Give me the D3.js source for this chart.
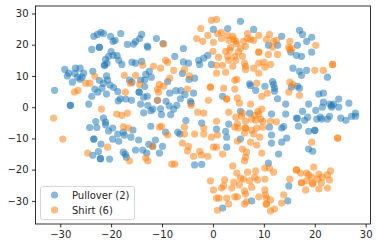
<!DOCTYPE html>
<html><head><meta charset="utf-8"><script src="https://cdn.jsdelivr.net/npm/d3@7"></script>
<style>html,body{margin:0;padding:0;background:#fff}svg{display:block}text{font-family:"DejaVu Sans",sans-serif;font-size:10px;fill:#262626}</style></head><body>
<svg id="c" width="378" height="248"></svg>
<script>
const seriesNames = ["Pullover (2)", "Shirt (6)"];
const colors = ["#1f77b4", "#ff7f0e"];
const xTicks = [-30,-20,-10,0,10,20,30];
const yTicks = [-30,-20,-10,0,10,20,30];
const pulloverX = [-31.1,-29.1,-28.6,-28.3,-27.6,-27.1,-27,-26.6,-26.1,-26.1,-25.7,-25.4,-28,-28,-24.4,-23.8,-23.6,-23.2,-22.6,-22.3,-21.8,-21.5,-20.9,-20.9,-20.7,-20.2,-19.5,-18.7,-18.6,-18.2,-17.1,-16,-14.2,-13.6,-12.9,-13.6,-12.8,-12.2,-11.8,-10.9,-10.3,-10.1,-9.2,-8.6,-8.3,-7.7,-7.1,-6.4,-8.5,-7.3,-6.3,-5.5,-5.3,-14.5,-14.5,-13.4,-13.4,-14.2,-16.4,-15.9,-13.2,-12.5,-12.1,-8.9,-6,-4.7,-4.8,-5.8,-7.5,-5.8,-11.1,-9.8,-12.9,-12.8,-14,-14.4,-15.2,-15.6,-16.8,-18.1,-19.2,-19.6,-20.1,-21.5,-22,-22.7,-23.4,-23.8,-22.3,-22.3,-20,-20.5,-19.6,-18.8,-21.1,-18.5,-17.9,-20.8,-21.3,-21.3,-15.9,-15.2,-14,-23,-21.5,-21.1,-24.2,-22.8,-21.1,-20.5,-19.7,-19.7,-18.7,-18.5,-17.6,-17.4,-16.1,-15.7,-23.4,-23.4,-22.5,-23.6,-22,-22.1,-22.1,-20.3,-17.6,-17.2,-17,-15.2,-14.6,-13.8,-13,-12.6,-11.8,-11.3,-10.5,-9.9,-12.2,-9.3,-6.9,-6.5,5.4,2.9,0.1,8,13.5,17,17.6,19.4,18.4,16.6,10.9,12.7,15.3,16.4,17.4,19.4,-1,-1.8,-2.8,-2.6,-0.3,15.7,17,18.4,17.4,22.5,-3.6,7.2,7.4,8.4,10.2,11.7,11.9,12.1,12.1,12.7,15.4,16.6,17,20.8,21.7,21.7,21.5,20.2,22.9,23.3,23.7,23.3,24.7,24.7,26.7,18.8,17.6,18.6,18,16.4,16.6,20.4,21.1,21.4,22.5,22.9,25.1,26.1,27.2,28,28,14.3,14.3,11.5,7.2,5.4,1.9,-3.8,-4.4,-4.3,-2.2,3.1,0.7,2.5,2.7,2.7,5.4,-3.6,-2.2,11.1,11.5,11.5,13.5,13.9,13.5,14.5,16.8,18.8,20,20,18.8,19.6,12.9,10.9,14.9,7.6,14.7,1.9];
const pulloverY = [5.4,12.1,10,10.9,8,10.8,12.5,9.6,12.5,8.9,9.6,10.9,0.6,0.6,1,3.5,11.5,5.8,4.8,8.6,6.1,7.7,4.2,10,8.7,7.1,6.3,5,2,2.7,2.6,2.2,1,3.2,3.5,-1.8,0.6,-1.1,-0.6,2.2,-0.5,-2.4,1.9,0.4,-2.4,-0.6,0.6,2.7,4.5,5.3,5.3,4,-4.3,4.8,4.8,6.6,8.7,8.7,8.7,8,10.5,11.5,9.6,8.2,10.8,8.9,14.1,14.5,16.3,18.8,22,20.4,19.6,19.2,23.3,22,21,20.2,20.1,23.6,21.4,21.1,22.7,23.6,24,23.3,22.7,18.5,19.2,19.2,17.8,16.3,16.6,16.5,15.3,15,13.7,14.1,13.4,13.4,14.4,14.1,14.7,-4.6,-3.5,-4.8,-6.5,-6.5,-5.6,-7.6,-6.7,-10.2,-8.6,-10.9,-8,-9,-9.6,-7.3,-10.2,-10.2,-14.2,-15.4,-11.8,-16.5,-16.5,-16.6,-14.4,-15.1,-16,-13.7,-10.5,-13.7,-14.7,-11.9,-12.5,-10.5,-14.7,-12.5,-6.1,-8,-8,-8.6,27.5,25.2,24.9,24.9,22.7,24.6,23.3,22.4,21.1,19.8,19.8,19.8,17.6,16.6,16.3,17.6,16.6,15.7,15,13.7,13.7,12.5,11.5,11.8,10.2,9.6,9.3,7.5,6.9,5.4,6.7,8.2,7.3,6.1,5.1,2.7,6.4,6.7,6.1,4.2,4.5,1.6,0,-1,1,0.6,1,0,2.6,0,1.3,1,-1.3,-3.2,-4.2,-3.5,-3.6,-3.8,-3.2,-3.8,-3.8,-2.9,-3.5,-4.2,-2.9,-1.9,-2.9,1,-2.2,-2.2,-1.9,-1.3,3.5,4.5,1.9,1.3,-5.1,-5.4,-7,-7.7,-9.6,-12.8,-10.2,-18.5,-18.3,-6.4,-8.9,-11.5,-6.7,-6.2,-11.2,-9.9,-6.1,-7.7,-7.4,-7.4,-13.4,-14.1,-15,-17.9,-25.2,-30,-30,-32.3];
const shirtX = [-31.3,-27.2,-26.5,-25,-24.2,-23.2,-21.9,-18.9,-17.9,-16.8,-17.4,-17.2,-16.2,-15.2,-14.4,-13.8,-11.7,-10.3,-9.7,-9.3,-8.9,-7.7,-5.6,-8.5,-10.5,-9.7,-10.9,-10.7,-10.9,-5,-4.6,-29.5,-24.6,-20.7,-17.6,-16.6,-16.4,-13.2,-12.8,-11.9,-10.5,-10.1,-8.9,-8.1,-7.5,-6,-5.6,-5.6,-4.8,-5,-0.3,0.7,-2.4,-3.2,-2,-1,0.1,0.9,1.7,1.7,2.9,3.1,3.9,4.1,3.5,3.3,4.5,4.6,6,6.4,5.4,6.8,6.8,7.4,8,9,10.5,11.1,11.9,12.5,11.7,15.1,14.9,15.1,15.5,20.2,9,9,10.9,12.7,0,2.5,1.1,2.9,3.1,4.3,5,4.5,5.8,6.2,6.4,6.4,3.9,1.9,0.7,0.7,2.5,8,9,10,10.2,11.3,9,23.5,23.5,20,21.7,4.3,4.7,8.6,15.1,15.7,14.9,17,10.7,9.6,-0.5,-0.5,2.1,4.3,4.8,2.7,2.7,-0.9,5.2,7.4,3.1,-3,-1.8,-4.3,9.6,8.8,9,8.2,5.8,5.6,4.5,0.7,6.4,4.8,7.6,8.4,9.4,9.8,11.3,12.5,-3.6,-1.8,-1.8,-0.3,0.9,0.1,0.7,-2.6,-2.2,-1,-3.8,1.9,4.3,5,4.8,6.4,6.4,7.6,8.6,9.8,8,6.2,7.4,8.6,9.2,5.8,6.6,6.4,6.2,9.6,19.4,24.5,24.5,3.9,4.7,6.8,8.4,10.2,11.1,11.9,5.4,6,8.2,8.8,10.2,7.2,4.1,2.3,-0.5,2.1,1.7,3.7,5.2,7.6,0.1,6.2,6.4,10.2,9,10.3,10.5,13.9,0.7,1.2,2.7,4.3,4.8,3.1,6.2,6.6,10.5,10.5,11.3,13.5,0.9,11.3,12.1,15.1,16.4,16.4,17.2,18.4,18.8,19.4,19.8,20.8,20.6,21.5,22.5,23.1,22.9,17.4,17.4,18.4,19.6,19.6,21.3,18.2,20.8,22.5];
const shirtY = [-3.5,4.8,5.4,7.7,7.7,9.9,-0.6,-2.2,-2.6,-1.9,10.2,4.8,7.7,10.2,7.3,13.4,13.1,12.5,20.2,15,14.4,11.8,12.1,9.3,7.3,6.7,5.8,4.8,2.2,5.8,10,-10.2,-14.7,-12.8,-6.2,-6.7,-17.2,-16.3,-17.2,-12.5,-6.4,-6.1,-8.9,-18.2,-18.2,-11.5,-6.4,-8.6,-12.5,-14,27.8,28.1,25.2,22,21.1,23,20.8,23.6,24,22,23,21.4,22.7,21.7,19.2,18.3,21.1,20.4,21.1,19.5,18.9,23.6,22,21.7,21.4,23,21.7,23.3,21.1,21.4,19.2,21.1,19.2,18.5,18.8,19.8,17.6,17.6,16.9,16.9,17.9,17.9,16,16.3,15,16.3,17.6,15,16.3,14.1,13.1,12.1,13.1,13.4,13.4,10.9,11.2,12.5,14.1,14.4,12.8,13.7,10.9,13.7,13.7,11.8,11.8,8.6,8.9,7.7,8,7.3,4.8,3.8,4.5,3.5,6.4,6.4,6.1,5.8,2.9,2.6,2.6,2.2,1.3,1,-1.6,-1.6,-1.9,0.6,-0.6,-1.3,-2.2,-2.6,-1.9,-2.9,-3.2,-4.5,-4.5,-5.3,-3.8,-4.2,-3.8,-4.5,-4.5,-4.7,-8.6,-6.7,-8.6,-9.6,-8.9,-12.8,-12.8,-14.1,-15.3,-15.7,-15.7,-15,-6.4,-6.7,-10.9,-6.7,-6.7,-7.4,-6.7,-6.4,-8.6,-8.3,-11.2,-12.1,-9.6,-13.4,-14.4,-16,-17.2,-14.7,-11.2,-9.9,-9.9,-18.8,-21.1,-20.8,-20.4,-19.5,-19.5,-20.8,-22.7,-23,-22.4,-23.3,-23,-23.6,-24,-23.3,-23.6,-25.2,-25.9,-25.9,-24.9,-25.6,-26.5,-26.8,-27.8,-26.5,-28.7,-28.1,-29.1,-28.1,-29.1,-29.1,-29.1,-28.7,-28.7,-31,-31,-30.3,-31,-31,-29.7,-30.7,-33,-33.2,-32.6,-23,-20.1,-20.1,-21.1,-21.1,-21.7,-22.4,-19.2,-21.4,-23,-22.4,-21.7,-20.4,-23.3,-24.2,-24.2,-23.6,-24.3,-24.6,-24.3,-26.5,-26.2,-25.9];

const L = 35.5, R = 370.5, T = 6, B = 224;
const x = d3.scaleLinear().domain([-34.85, 30.95]).range([L, R]);
const y = d3.scaleLinear().domain([-37.4, 32.4]).range([B, T]);
const svg = d3.select("#c");
const fmt = d => String(d).replace("-", "\u2212");
const dot = (s, i) => s.attr("r", 3.6).attr("fill", colors[i]).attr("fill-opacity", 0.52);

const series = [[pulloverX, pulloverY], [shirtX, shirtY]];
series.forEach(([xs, ys], i) => {
  svg.append("g").selectAll("circle").data(xs.map((v, k) => [v, ys[k]])).join("circle")
    .attr("cx", d => x(d[0])).attr("cy", d => y(d[1])).call(dot, i);
});

const gx = svg.append("g").attr("transform", `translate(0,${B})`)
  .call(d3.axisBottom(x).tickValues(xTicks).tickFormat(fmt).tickSize(3.5).tickPadding(3.5));
const gy = svg.append("g").attr("transform", `translate(${L},0)`)
  .call(d3.axisLeft(y).tickValues(yTicks).tickFormat(fmt).tickSize(3.5).tickPadding(3.5));
[gx, gy].forEach(g => {
  g.select(".domain").remove();
  g.selectAll("line").attr("stroke", "#000").attr("stroke-width", 0.8);
  g.selectAll("text").attr("fill", "#262626").style("font-size", "10px").style("font-family", '"DejaVu Sans"');
});
svg.append("rect").attr("x", L).attr("y", T).attr("width", R - L).attr("height", B - T)
  .attr("fill", "none").attr("stroke", "#000").attr("stroke-width", 0.8);

const lg = svg.append("g");
lg.append("rect").attr("x", 40.5).attr("y", 186.5).attr("width", 94).attr("height", 33).attr("rx", 2)
  .attr("fill", "#fff").attr("fill-opacity", 0.8).attr("stroke", "#ccc").attr("stroke-width", 0.8);
seriesNames.forEach((n, i) => {
  const yy = 195 + i * 15;
  lg.append("circle").attr("cx", 54.5).attr("cy", yy).call(dot, i);
  lg.append("text").attr("x", 72).attr("y", yy + 3.5).text(n);
});
</script></body></html>
